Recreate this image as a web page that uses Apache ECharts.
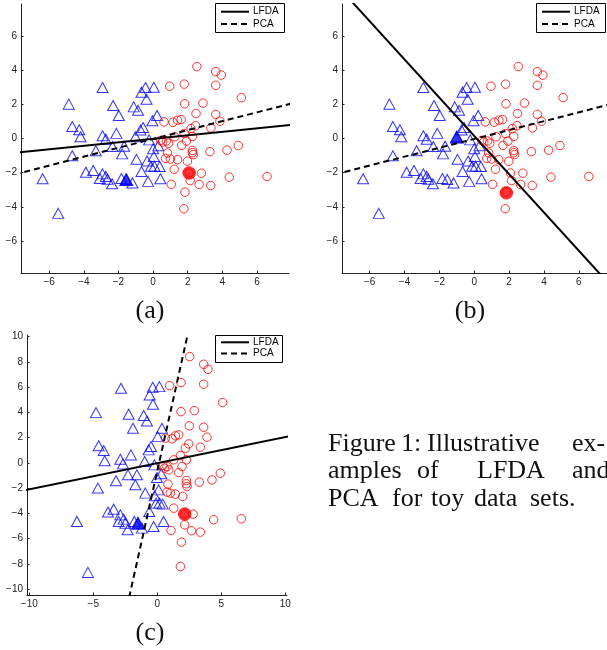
<!DOCTYPE html>
<html><head><meta charset="utf-8">
<script src="https://cdn.jsdelivr.net/npm/echarts@6/dist/echarts.min.js"></script>
<style>html,body{margin:0;padding:0;background:#fff}#c{width:607px;height:650px}</style>
</head><body><div id="c"></div>
<script>
// ---------- data ----------
const ticksAB = [-6, -4, -2, 0, 2, 4, 6];
const xTicksC = [-10, -5, 0, 5, 10];
const yTicksC = [-10, -8, -6, -4, -2, 0, 2, 4, 6, 8, 10];
const legendNames = ['LFDA', 'PCA'];
const panelLabels = ['(a)', '(b)', '(c)'];
const captionLines = [
  ['Figure', '1:', 'Illustrative', 'ex-'],
  ['amples', 'of', 'LFDA', 'and'],
  ['PCA', 'for', 'toy', 'data', 'sets.']
];

const blueAB = [[-6.38,-2.36],[-5.48,-4.38],[-4.87,2.01],[-4.67,0.70],[-4.27,0.51],[-4.19,0.10],[-4.67,-1.01],[-3.88,-1.97],[-3.46,-1.87],[-3.31,-0.72],[-2.92,2.98],[-2.92,0.16],[-2.73,-0.04],[-2.92,-2.07],[-3.08,-2.34],[-2.73,-2.22],[-2.63,-2.38],[-2.37,-2.65],[-2.31,1.93],[-1.98,1.35],[-2.12,0.30],[-2.35,-0.47],[-1.79,-0.90],[-1.67,-0.45],[-1.83,-2.34],[-1.55,-2.40],[-1.19,-2.60],[-1.12,1.85],[-0.87,1.65],[-1.02,0.10],[-0.96,-1.22],[-0.73,0.50],[-0.58,0.64],[-0.67,-1.93],[-0.67,2.71],[-0.44,2.98],[0.04,3.00],[-0.38,2.30],[-0.04,1.04],[0.23,1.35],[-0.23,-0.08],[-0.29,-2.51],[0.00,-0.60],[0.04,-1.05],[-0.35,-1.32],[-0.12,-1.62],[0.08,-1.62],[0.38,-1.64],[0.42,-2.36],[0.30,-0.42]];
const redAB = [[2.53,4.21],[3.62,3.91],[3.94,3.71],[3.62,3.11],[0.96,3.06],[1.80,3.18],[5.10,2.39],[1.82,2.03],[2.88,2.07],[2.48,1.46],[3.62,1.41],[0.63,0.97],[1.15,0.95],[1.41,1.07],[1.62,1.11],[3.86,1.01],[2.45,0.75],[3.34,0.62],[2.19,0.58],[1.80,0.29],[2.27,0.12],[1.25,0.10],[0.44,-0.11],[0.55,-0.21],[0.76,-0.15],[0.89,-0.28],[1.93,-0.15],[1.65,-0.40],[4.92,-0.41],[4.27,-0.68],[2.27,-0.70],[2.27,-0.83],[2.32,-0.94],[3.28,-0.77],[0.83,-0.85],[0.72,-1.16],[1.00,-1.20],[1.41,-1.24],[1.98,-1.33],[1.22,-1.80],[2.79,-2.03],[4.40,-2.26],[6.58,-2.22],[1.05,-2.68],[2.14,-2.46],[2.66,-2.69],[3.33,-2.75],[1.84,-3.14],[1.78,-4.11],[2.08,-2.02]];

const blueC = [[-6.28,-4.64],[-5.42,-8.68],[-4.79,3.98],[-4.58,1.35],[-4.19,0.98],[-4.11,0.16],[-4.64,-2.00],[-3.85,-3.90],[-3.41,-3.67],[-3.23,-1.42],[-2.84,5.91],[-2.89,0.29],[-2.68,-0.08],[-2.89,-4.12],[-3.02,-4.64],[-2.63,-4.46],[-2.50,-4.78],[-2.32,-5.30],[-2.24,3.85],[-1.90,2.74],[-2.06,0.63],[-2.29,-0.95],[-1.72,-1.74],[-1.59,-0.95],[-1.80,-4.64],[-1.51,-4.78],[-1.20,-5.17],[-1.07,3.75],[-0.81,3.32],[-0.99,0.11],[-0.94,-2.40],[-0.68,1.03],[-0.49,1.29],[-0.63,-3.85],[-0.60,5.38],[-0.36,5.99],[0.16,6.04],[-0.34,4.64],[0.03,2.08],[0.36,2.74],[-0.23,-0.16],[-0.29,-5.04],[-0.03,-1.16],[0.10,-2.14],[-0.21,-2.61],[-0.10,-3.19],[0.18,-3.19],[0.42,-3.27],[0.49,-4.64],[0.31,-0.87]];
const redC = [[2.53,8.42],[3.62,7.81],[3.96,7.41],[3.62,6.23],[0.96,6.12],[1.85,6.36],[5.10,4.78],[1.85,4.06],[2.89,4.14],[2.50,2.93],[3.62,2.82],[0.63,1.95],[1.15,1.90],[1.41,2.14],[1.67,2.22],[3.88,2.03],[2.45,1.50],[3.36,1.24],[2.19,1.16],[1.80,0.58],[2.27,0.24],[1.28,0.24],[0.44,-0.21],[0.55,-0.42],[0.76,-0.29],[0.89,-0.55],[1.93,-0.29],[1.67,-0.77],[4.92,-0.82],[4.27,-1.35],[2.27,-1.40],[2.27,-1.66],[2.32,-1.87],[3.28,-1.53],[0.83,-1.69],[0.76,-2.32],[1.02,-2.40],[1.41,-2.48],[1.98,-2.66],[1.28,-3.59],[2.79,-4.06],[4.40,-4.51],[6.56,-4.43],[1.07,-5.36],[2.14,-4.91],[2.66,-5.38],[3.36,-5.49],[1.88,-6.28],[1.80,-8.21],[2.14,-4.06]];

const blueSelA = [[-1.55,-2.40]], redSelA = [[2.08,-2.02]];
const blueSelB = [[-1.00,0.08]], redSelB = [[1.84,-3.18]];
const blueSelC = [[-1.51,-4.78]], redSelC = [[2.14,-4.06]];

const lfdaA = [[-8,-0.84],[8,0.80]];
const pcaA  = [[-8,-2.10],[8,2.05]];
const lfdaB = [[-8,9.10],[8,-8.80]];
const pcaB  = [[-8,-2.10],[8,2.05]];
const lfdaC = [[-10.5,-2.20],[10.5,2.15]];
const pcaC  = [[-2.2,-10.65],[2.4,10.30]];

// ---------- chart ----------
const fmt = v => String(v).replace('-', '\u2212');
function axis(gi, min, max, ticks){
  return {
    type:'value', gridIndex:gi, min:min, max:max,
    axisLine:{show:true, onZero:false, lineStyle:{color:'#222', width:1}},
    axisTick:{show:true, inside:true, length:2.5, customValues:ticks, lineStyle:{color:'#222'}},
    splitLine:{show:false},
    axisLabel:{show:true, customValues:ticks, fontSize:10, color:'#222', fontFamily:'Liberation Sans', formatter:fmt, hideOverlap:false, margin:4}
  };
}
function pts(gi, data, shape, color, size, filled){
  return {type:'scatter', xAxisIndex:gi, yAxisIndex:gi, data:data, symbol:shape, symbolSize:size, silent:true,
    itemStyle:{color: filled ? color : 'rgba(0,0,0,0)', borderColor:color, borderWidth:1}, z: filled ? 3 : 2};
}
function ln(gi, name, data, type){
  return {type:'line', name:name, xAxisIndex:gi, yAxisIndex:gi, data:data, symbol:'none', showSymbol:false, clip:true, silent:true,
    lineStyle:{color:'#000', width:2, type: type==='dashed' ? [6,4] : 'solid'}, z:4};
}
function legendBox(x, y, w, h, row1, row2){
  return [
    {type:'rect', shape:{x:x+0.5, y:y+0.5, width:w, height:h}, style:{fill:'#fff', stroke:'#000', lineWidth:1}, z:100},
    {type:'line', shape:{x1:x+6, y1:row1, x2:x+34, y2:row1}, style:{stroke:'#000', lineWidth:2}, z:101},
    {type:'line', shape:{x1:x+6, y1:row2, x2:x+34, y2:row2}, style:{stroke:'#000', lineWidth:2, lineDash:[6,4]}, z:101},
    {type:'text', x:x+38, y:row1, style:{text:legendNames[0], font:'10px "Liberation Sans"', fill:'#000', verticalAlign:'middle'}, z:101},
    {type:'text', x:x+38, y:row2, style:{text:legendNames[1], font:'10px "Liberation Sans"', fill:'#000', verticalAlign:'middle'}, z:101}
  ];
}
const serifFont = '26px "Liberation Serif"';
function txt(x, y, t, align){
  return {type:'text', x:x, y:y, style:{text:t, font:serifFont, fill:'#111', align:align || 'left', verticalAlign:'top'}};
}
const wordX = [[328, 401, 427, 572], [328, 417, 477, 572], [328, 392, 431, 474, 530]];
const lineY = [431, 458.5, 486];
const captionEls = [];
captionLines.forEach((ws, i) => ws.forEach((w, j) => captionEls.push(txt(wordX[i][j], lineY[i], w))));

const chart = echarts.init(document.getElementById('c'));
chart.setOption({
  animation:false,
  grid:[
    {left:21, top:4, width:268, height:269},
    {left:342, top:4, width:265, height:269},
    {left:27, top:335, width:260, height:260}
  ],
  xAxis:[axis(0,-7.63,7.85,ticksAB), axis(1,-7.59,7.62,ticksAB), axis(2,-10.18,10.13,xTicksC)],
  yAxis:[axis(0,-7.87,7.87,ticksAB), axis(1,-7.87,7.87,ticksAB), axis(2,-10.47,10.13,yTicksC)],
  series:[
    pts(0, blueAB, 'triangle', '#0000ff', [11,10], false),
    pts(0, redAB, 'circle', '#ff0000', 8.5, false),
    pts(0, blueSelA, 'triangle', '#0000ff', [13,12], true),
    pts(0, redSelA, 'circle', '#ff0000', 12.5, true),
    ln(0, 'LFDA', lfdaA, 'solid'), ln(0, 'PCA', pcaA, 'dashed'),
    pts(1, blueAB, 'triangle', '#0000ff', [11,10], false),
    pts(1, redAB, 'circle', '#ff0000', 8.5, false),
    pts(1, blueSelB, 'triangle', '#0000ff', [13,12], true),
    pts(1, redSelB, 'circle', '#ff0000', 12.5, true),
    ln(1, 'LFDA', lfdaB, 'solid'), ln(1, 'PCA', pcaB, 'dashed'),
    pts(2, blueC, 'triangle', '#0000ff', [11,10], false),
    pts(2, redC, 'circle', '#ff0000', 8.5, false),
    pts(2, blueSelC, 'triangle', '#0000ff', [13,12], true),
    pts(2, redSelC, 'circle', '#ff0000', 12.5, true),
    ln(2, 'LFDA', lfdaC, 'solid'), ln(2, 'PCA', pcaC, 'dashed')
  ],
  graphic:[].concat(
    legendBox(215, 3, 69, 29, 11.7, 24),
    legendBox(536, 3, 69, 29, 11.7, 24),
    legendBox(215, 335, 67, 27, 342.3, 353.5),
    [txt(150, 298, panelLabels[0], 'center'), txt(470, 298, panelLabels[1], 'center'), txt(150, 620, panelLabels[2], 'center')],
    captionEls
  )
});
</script></body></html>
